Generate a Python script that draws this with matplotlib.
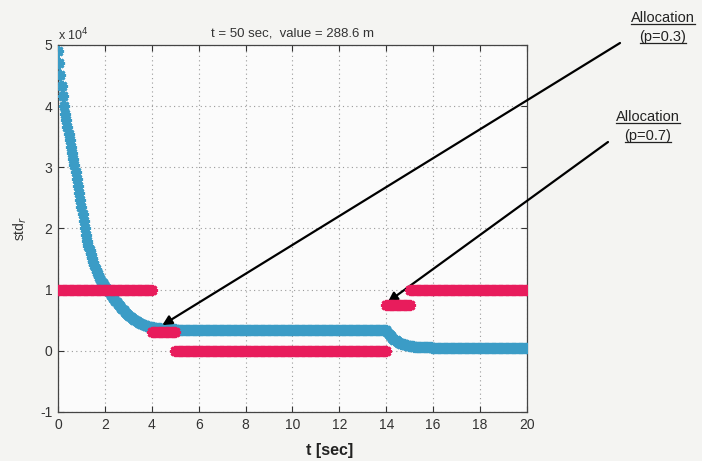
import numpy as np
import matplotlib
matplotlib.use("Agg")
import matplotlib.pyplot as plt
from matplotlib.lines import Line2D

plt.rcParams['font.family'] = ['Liberation Sans', 'DejaVu Sans']

# ---- data (std_r in units of 1e4) ----
dt = 0.05
# initial convergence, t = 0.00 ... 5.00
blue_a = [4.90, 4.70, 4.51, 4.33, 4.16, 4.00, 3.88, 3.77, 3.66, 3.55,
          3.45, 3.34, 3.24, 3.13, 3.03, 2.92, 2.81, 2.69, 2.58, 2.46,
          2.35, 2.23, 2.12, 2.01, 1.90, 1.80, 1.72, 1.65, 1.58, 1.51,
          1.45, 1.40, 1.34, 1.29, 1.25, 1.20, 1.17, 1.14, 1.11, 1.08,
          1.05, 1.02, 1.00, 0.97, 0.94, 0.92, 0.89, 0.87, 0.85, 0.82,
          0.80, 0.77, 0.75, 0.73, 0.70, 0.68, 0.66, 0.64, 0.62, 0.60,
          0.580, 0.566, 0.552, 0.538, 0.524, 0.510, 0.498, 0.486, 0.474, 0.462,
          0.450, 0.442, 0.434, 0.426, 0.418, 0.410, 0.405, 0.400, 0.395, 0.390,
          0.385, 0.382, 0.379, 0.376, 0.373, 0.370, 0.368, 0.366, 0.364, 0.362,
          0.360, 0.359, 0.358, 0.357, 0.356, 0.355, 0.354, 0.353, 0.352, 0.351,
          0.350]
# plateau, t = 5.05 ... 13.95
blue_b = [0.348] * 30 + [0.346] * 50 + [0.345] * 99
# second convergence, t = 14.00 ... 20.00
blue_c = ([0.343, 0.310, 0.282, 0.258, 0.236, 0.216, 0.199, 0.183, 0.169, 0.157,
           0.145, 0.135, 0.126, 0.118, 0.111, 0.105, 0.099, 0.094, 0.089, 0.085,
           0.081, 0.078, 0.075, 0.073, 0.070, 0.068, 0.066, 0.064, 0.063, 0.062,
           0.060, 0.059, 0.058, 0.057, 0.057, 0.056, 0.056, 0.055, 0.055, 0.054,
           0.054, 0.054, 0.053, 0.053, 0.053, 0.052, 0.052, 0.052, 0.052, 0.052,
           0.051] + [0.051] * 70)
std_r = np.array(blue_a + blue_b + blue_c)
t = np.arange(len(std_r)) * dt

# allocation levels (piecewise constant)
alloc_level = [1.0, 0.3, 0.0, 0.75, 1.0]
alloc_start = [0.0, 4.0, 5.0, 14.0, 15.0]
alloc_end = [4.0, 5.0, 14.0, 15.0, 20.0]

xticks = [0, 2, 4, 6, 8, 10, 12, 14, 16, 18, 20]
yticks = [-1, 0, 1, 2, 3, 4, 5]

# ---- figure ----
fig = plt.figure(figsize=(7.02, 4.61), dpi=100, facecolor='#f4f4f2')
ax = fig.add_axes([0.0826, 0.1063, 0.668, 0.7961], facecolor='#fbfbfb')

blue = '#3b9cc6'
red = '#e81c5c'
asterisk = (8, 2, 0)

ax.plot(t, std_r, color=blue, lw=2, marker=asterisk, ms=8, mew=2.0,
        mec=blue, zorder=3)
for lev, s, e in zip(alloc_level, alloc_start, alloc_end):
    ts = np.arange(s, e + 1e-9, dt)
    ax.plot(ts, np.full_like(ts, lev), color=red, lw=2, marker=asterisk,
            ms=8, mew=2.0, mec=red, zorder=4)

ax.set_xlim(0, 20)
ax.set_ylim(-1, 5)
ax.set_xticks(xticks)
ax.set_yticks(yticks)
ax.set_xticklabels([str(v) for v in xticks])
ax.set_yticklabels([str(v) for v in yticks])
ax.tick_params(direction='in', top=True, right=True, length=4, width=0.8,
               labelsize=10, colors='#333333', pad=4)
ax.grid(True, linestyle=(0, (1, 3)), color='#9a9a9a', lw=0.8)
for sp in ax.spines.values():
    sp.set_color('#444444')
    sp.set_linewidth(0.9)

ax.set_xlabel('t [sec]', fontsize=11.5, fontweight='bold', color='#222222')
ax.xaxis.set_label_coords(0.58, -0.085)
ax.set_ylabel('std$_r$', fontsize=10, color='#333333', labelpad=8)
ax.set_title('t = 50 sec,  value = 288.6 m', fontsize=9.5, color='#333333',
             pad=6)
ax.text(0.0, 1.005, r'x 10$^4$', transform=ax.transAxes, fontsize=9,
        color='#333333', ha='left', va='bottom')

# ---- arrows and labels ----
H = 461
arrow_kw = dict(arrowstyle='-|>', color='black', lw=1.6, mutation_scale=14,
                shrinkA=0, shrinkB=0)
ax.annotate('', xy=(4.45, 0.42), xycoords='data',
            xytext=(620, H - 43), textcoords='figure pixels',
            arrowprops=arrow_kw, annotation_clip=False)
ax.annotate('', xy=(14.07, 0.80), xycoords='data',
            xytext=(608, H - 142), textcoords='figure pixels',
            arrowprops=arrow_kw, annotation_clip=False)

labels = [('Allocation', 663, 18), ('(p=0.3)', 663, 37),
          ('Allocation', 648, 117), ('(p=0.7)', 648, 136)]
texts = []
for s, x, y in labels:
    texts.append(fig.text(x / 702, 1 - y / H, s, fontsize=10.5,
                          color='#222222', ha='center', va='center'))

fig.canvas.draw()
r = fig.canvas.get_renderer()
for tx in texts:
    bb = tx.get_window_extent(renderer=r)
    yline = bb.y0 + 1
    fig.add_artist(Line2D([bb.x0 / 702, bb.x1 / 702],
                          [yline / H, yline / H], color='#222222', lw=0.9,
                          transform=fig.transFigure))

fig.savefig('out.png', dpi=100, facecolor=fig.get_facecolor())
